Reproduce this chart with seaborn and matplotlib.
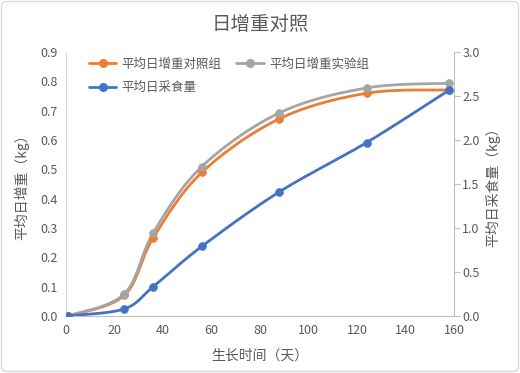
import numpy as np
import pandas as pd
import matplotlib
matplotlib.use("Agg")
import matplotlib.pyplot as plt
import seaborn as sns
from matplotlib.patches import FancyBboxPatch

days = [1, 24, 36, 56, 88, 124, 158]
gain_control = [0.0, 0.07, 0.267, 0.489, 0.672, 0.759, 0.77]
gain_test = [0.0, 0.075, 0.284, 0.509, 0.692, 0.777, 0.793]
feed_intake = [0.0, 0.08, 0.333, 0.79, 1.41, 1.97, 2.565]

C_ORANGE = "#ED7D31"
C_GRAY = "#A5A5A5"
C_BLUE = "#4472C4"
TXT = "#595959"


def smooth(x, y, n=40):
    # Excel-like smoothed line: Catmull-Rom style bezier segments
    x = np.asarray(x, float)
    y = np.asarray(y, float)
    px = np.concatenate([[x[0]], x, [x[-1]]])
    py = np.concatenate([[y[0]], y, [y[-1]]])
    xs, ys = [], []
    t = np.linspace(0, 1, n)
    for i in range(1, len(px) - 2):
        p0 = np.array([px[i], py[i]])
        p3 = np.array([px[i + 1], py[i + 1]])
        p1 = p0 + (np.array([px[i + 1], py[i + 1]]) - np.array([px[i - 1], py[i - 1]])) / 6
        p2 = p3 - (np.array([px[i + 2], py[i + 2]]) - np.array([px[i], py[i]])) / 6
        b = ((1 - t) ** 3)[:, None] * p0 + (3 * (1 - t) ** 2 * t)[:, None] * p1 \
            + (3 * (1 - t) * t ** 2)[:, None] * p2 + (t ** 3)[:, None] * p3
        xs.extend(b[:, 0])
        ys.extend(b[:, 1])
    return pd.DataFrame({"x": xs, "y": ys})


sns.set_style("white")
plt.rcParams["font.family"] = ["Noto Sans CJK SC", "DejaVu Sans"]

fig = plt.figure(figsize=(5.2, 3.73), dpi=100)
ax = fig.add_axes([0.127, 0.153, 0.746, 0.708])
ax2 = ax.twinx()

for vals, col in [(gain_control, C_ORANGE), (gain_test, C_GRAY)]:
    sns.lineplot(data=smooth(days, vals), x="x", y="y", ax=ax, color=col,
                 linewidth=2, sort=False, estimator=None)
sns.lineplot(data=smooth(days, feed_intake), x="x", y="y", ax=ax2, color=C_BLUE,
             linewidth=2, sort=False, estimator=None)

sns.scatterplot(x=days, y=gain_control, ax=ax, color=C_ORANGE, s=32, edgecolor=C_ORANGE, zorder=5)
sns.scatterplot(x=days, y=gain_test, ax=ax, color=C_GRAY, s=32, edgecolor=C_GRAY, zorder=5)
sns.scatterplot(x=days, y=feed_intake, ax=ax2, color=C_BLUE, s=32, edgecolor=C_BLUE, zorder=5)

ax.set_xlim(0, 160)
ax.set_ylim(0, 0.9)
ax2.set_ylim(0, 3.0)
ax.set_xticks(range(0, 161, 20))
ax.set_yticks(np.arange(0, 0.91, 0.1))
ax.set_yticklabels([f"{v:.1f}" for v in np.arange(0, 0.91, 0.1)])
ax2.set_yticks(np.arange(0, 3.01, 0.5))
ax2.set_yticklabels([f"{v:.1f}" for v in np.arange(0, 3.01, 0.5)])

for a in (ax, ax2):
    for s in a.spines.values():
        s.set_visible(False)
ax.spines["left"].set_visible(True)
ax.spines["left"].set_color("#D9D9D9")
ax.spines["bottom"].set_visible(True)
ax.spines["bottom"].set_color("#BFBFBF")
ax2.spines["right"].set_visible(True)
ax2.spines["right"].set_color("#BFBFBF")

ax.tick_params(axis="both", length=0, labelsize=9, colors=TXT, pad=6)
ax2.tick_params(axis="y", length=4, width=0.8, color="#BFBFBF", labelsize=9, colors=TXT, pad=2)

ax.set_xlabel("生长时间（天）", fontsize=10, color=TXT, labelpad=8)
ax.set_ylabel("平均日增重（kg）", fontsize=10, color=TXT, labelpad=8)
ax2.set_ylabel("平均日采食量（kg）", fontsize=10, color=TXT, labelpad=4)

ax.set_title("日增重对照", fontsize=14, color=TXT, pad=16)

h = [plt.Line2D([], [], color=c, lw=2, marker="o", ms=5.5) for c in (C_ORANGE, C_BLUE, C_GRAY)]
lab = ["平均日增重对照组", "平均日采食量", "平均日增重实验组"]
leg = ax.legend(h, lab, loc="upper left", ncol=2, frameon=False, fontsize=9,
                bbox_to_anchor=(0.03, 1.02), columnspacing=1.2, handlelength=2.2,
                labelspacing=0.85, handletextpad=0.4)
for t in leg.get_texts():
    t.set_color(TXT)

fig.patches.append(FancyBboxPatch((0.003, 0.004), 0.994, 0.992, boxstyle="round,pad=0,rounding_size=0.01",
                                  transform=fig.transFigure, fill=False, edgecolor="#D9D9D9", lw=1))

fig.savefig("out.png", dpi=100)
